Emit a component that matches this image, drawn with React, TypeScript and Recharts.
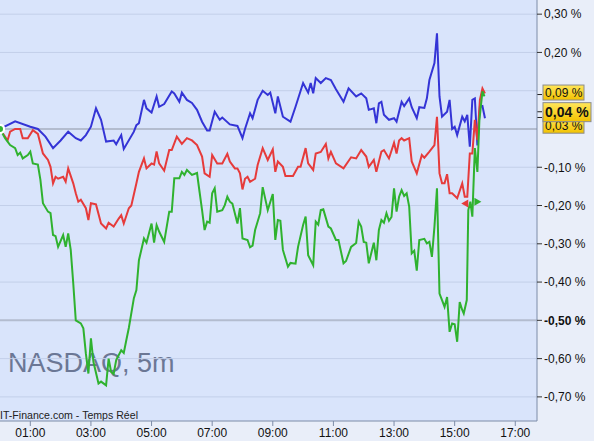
import React from "react";
import { LineChart, Line, XAxis, YAxis, ReferenceLine, ReferenceDot } from "recharts";

// [minutes since 00:00, % change]
const blueSeries: [number, number][] = [
  [0, 0], [30, 0.02], [60, 0.006], [75, 0], [90, -0.02], [105, -0.05], [120, -0.03], [135, -0.007], [150, -0.024], [160, -0.03],
  [170, -0.016], [180, 0.006], [190, 0.054], [200, 0.024], [210, -0.033], [225, -0.03], [230, -0.04], [240, -0.016], [245, -0.052],
  [265, -0.007], [270, 0.01], [275, 0.015], [285, 0.076], [290, 0.054], [300, 0.043], [310, 0.085], [315, 0.058], [325, 0.065],
  [340, 0.098], [345, 0.093], [355, 0.071], [360, 0.095], [370, 0.076], [380, 0.068], [390, 0.05], [400, 0.019], [410, -0.004],
  [415, -0.004], [425, 0.045], [435, 0.024], [440, 0.03], [455, 0.012], [470, 0.008], [480, -0.024], [485, 0], [495, 0.041],
  [500, 0.028], [510, 0.076], [520, 0.1], [530, 0.089], [535, 0.095], [545, 0.041], [550, 0.085], [560, 0.032], [575, 0.019],
  [585, 0.058], [600, 0.12], [610, 0.095], [615, 0.12], [620, 0.093], [625, 0.133], [635, 0.12], [645, 0.133], [655, 0.128],
  [665, 0.104], [680, 0.071], [690, 0.106], [705, 0.085], [715, 0.093], [725, 0.08], [730, 0.05], [740, 0.054], [745, 0.015],
  [750, 0.067], [755, 0.071], [760, 0.037], [770, 0.024], [780, 0.028], [785, 0.019], [795, 0.071], [800, 0.06], [810, 0.08],
  [815, 0.057], [825, 0.028], [830, 0.057], [840, 0.055], [845, 0.08], [850, 0.128], [860, 0.172], [865, 0.25], [870, 0.085],
  [875, 0.032], [885, 0.045], [890, 0.076], [895, 0], [900, 0.006], [905, -0.016], [915, 0.032], [920, 0.02], [925, 0.037],
  [930, -0.046], [935, 0.076], [940, 0.08], [945, -0.043], [950, 0.058], [955, 0.06], [960, 0.028],
];

const redSeries: [number, number][] = [
  [0, 0], [15, -0.03], [20, -0.007], [30, 0], [40, 0], [45, -0.024], [55, -0.024], [65, -0.003], [75, -0.013], [85, -0.064],
  [95, -0.081], [100, -0.099], [105, -0.142], [110, -0.125], [115, -0.13], [125, -0.125], [130, -0.138], [135, -0.103],
  [145, -0.142], [150, -0.168], [155, -0.19], [160, -0.185], [170, -0.207], [175, -0.238], [180, -0.194], [190, -0.197],
  [200, -0.247], [210, -0.26], [215, -0.245], [225, -0.255], [235, -0.234], [240, -0.225], [245, -0.247], [255, -0.207],
  [260, -0.2], [270, -0.142], [275, -0.112], [285, -0.077], [290, -0.103], [300, -0.09], [305, -0.093], [310, -0.059],
  [315, -0.09], [325, -0.109], [335, -0.055], [340, -0.055], [350, -0.02], [360, -0.039], [370, -0.024], [380, -0.03],
  [390, -0.042], [400, -0.072], [405, -0.116], [415, -0.125], [420, -0.068], [430, -0.09], [440, -0.09], [450, -0.065],
  [455, -0.085], [465, -0.103], [470, -0.103], [475, -0.116], [480, -0.158], [485, -0.13], [490, -0.125], [495, -0.138],
  [505, -0.13], [510, -0.094], [520, -0.05], [530, -0.081], [540, -0.053], [545, -0.112], [550, -0.085], [560, -0.099],
  [565, -0.123], [580, -0.123], [590, -0.099], [595, -0.099], [605, -0.05], [610, -0.09], [620, -0.107], [625, -0.064],
  [635, -0.06], [645, -0.039], [650, -0.077], [655, -0.06], [665, -0.09], [680, -0.103], [695, -0.074], [705, -0.077],
  [715, -0.055], [725, -0.072], [730, -0.099], [740, -0.081], [745, -0.112], [755, -0.059], [760, -0.055], [770, -0.077],
  [780, -0.036], [785, -0.064], [790, -0.03], [795, -0.024], [800, -0.03], [810, -0.024], [815, -0.085], [825, -0.116],
  [835, -0.068], [840, -0.075], [850, -0.059], [860, -0.042], [865, 0.032], [870, -0.116], [875, -0.142], [880, -0.142],
  [885, -0.118], [890, -0.168], [895, -0.168], [905, -0.181], [915, -0.142], [920, -0.177], [925, -0.177], [930, -0.064],
  [935, -0.064], [940, 0.024], [945, -0.029], [950, 0.076], [955, 0.106], [960, 0.093],
];

const greenSeries: [number, number][] = [
  [0, 0], [10, -0.024], [20, -0.042], [30, -0.05], [35, -0.068], [40, -0.062], [45, -0.077], [55, -0.068], [60, -0.059],
  [65, -0.09], [75, -0.093], [80, -0.133], [85, -0.194], [95, -0.216], [100, -0.22], [105, -0.277], [110, -0.28], [115, -0.308],
  [125, -0.277], [130, -0.308], [135, -0.273], [140, -0.316], [145, -0.403], [150, -0.5], [160, -0.508], [165, -0.521],
  [170, -0.587], [175, -0.639], [180, -0.547], [185, -0.609], [195, -0.665], [200, -0.66], [210, -0.67], [215, -0.6],
  [220, -0.635], [225, -0.64], [230, -0.604], [240, -0.578], [245, -0.585], [250, -0.552], [255, -0.52], [265, -0.442],
  [270, -0.421], [275, -0.343], [285, -0.286], [290, -0.297], [300, -0.247], [305, -0.297], [310, -0.251], [315, -0.268],
  [325, -0.295], [335, -0.216], [340, -0.216], [345, -0.129], [355, -0.129], [360, -0.112], [365, -0.12], [370, -0.107],
  [380, -0.12], [390, -0.115], [395, -0.164], [400, -0.212], [405, -0.264], [410, -0.242], [415, -0.245], [420, -0.168],
  [425, -0.155], [430, -0.216], [440, -0.212], [445, -0.199], [450, -0.177], [455, -0.19], [460, -0.195], [470, -0.247],
  [475, -0.207], [480, -0.286], [490, -0.29], [495, -0.309], [500, -0.305], [505, -0.264], [515, -0.22], [520, -0.152],
  [530, -0.212], [540, -0.17], [545, -0.29], [550, -0.238], [555, -0.24], [560, -0.316], [570, -0.36], [575, -0.35],
  [585, -0.352], [590, -0.308], [600, -0.251], [605, -0.229], [610, -0.33], [620, -0.356], [625, -0.242], [630, -0.25],
  [635, -0.212], [640, -0.21], [650, -0.255], [655, -0.26], [665, -0.29], [670, -0.29], [680, -0.351], [685, -0.345],
  [695, -0.308], [705, -0.298], [710, -0.242], [715, -0.255], [720, -0.295], [725, -0.297], [730, -0.351], [740, -0.297],
  [745, -0.343], [750, -0.264], [755, -0.238], [760, -0.245], [765, -0.22], [770, -0.24], [775, -0.23], [780, -0.155],
  [785, -0.216], [790, -0.177], [795, -0.16], [800, -0.175], [805, -0.168], [810, -0.203], [815, -0.325], [820, -0.318],
  [825, -0.37], [830, -0.29], [840, -0.287], [845, -0.299], [850, -0.295], [855, -0.334], [860, -0.255], [865, -0.155],
  [870, -0.43], [875, -0.447], [880, -0.465], [885, -0.439], [890, -0.53], [895, -0.508], [900, -0.51], [905, -0.556],
  [910, -0.452], [915, -0.473], [918, -0.482], [924, -0.447], [927, -0.212], [931, -0.19], [935, -0.229], [940, -0.05],
  [945, -0.112], [949, 0.024], [955, 0.098], [959, 0.085],
];

const xTicks = [60, 180, 300, 420, 540, 660, 780, 900, 1020];
const yTicks = [0.3, 0.2, -0.1, -0.2, -0.3, -0.4, -0.5, -0.6, -0.7];
const gridValues = [0.3, 0.2, 0.1, -0.1, -0.2, -0.3, -0.4, -0.6, -0.7];
const strongLines = [0, -0.5];

// last-value tags at the right edge
const tags = [
  { value: 0.03, text: "0,03 %", bold: false, dy: 7.7, h: 16, w: 41 },
  { value: 0.09, text: "0,09 %", bold: false, dy: -2, h: 15, w: 41 },
  { value: 0.045, text: "0,04 %", bold: true, dy: 0.4, h: 19, w: 48 },
];

// small reference markers near the close
const markers = [
  { t: 921, v: -0.195, color: "#e63b3b", dir: -1 },
  { t: 945, v: -0.19, color: "#2fb22f", dir: 1 },
];

const toRows = (s: [number, number][]) => s.map(([t, v]) => ({ t, v }));
const fmtPct = (v: number) => v.toFixed(2).replace(".", ",") + " %";
const fmtHour = (t: number) => String(Math.floor(t / 60)).padStart(2, "0") + ":00";

const FONT = "'Liberation Sans', Arial, sans-serif";

const YTick = (p: any) => {
  const v = p.payload.value;
  return (
    <text x={p.x} y={p.y} dy="0.36em" textAnchor="start" fontSize={12} fontFamily={FONT}
      fill="#111" fontWeight={Math.abs(v + 0.5) < 1e-6 ? "bold" : "normal"}>
      {fmtPct(v)}
    </text>
  );
};

const Tag = ({ viewBox, text, bold, dy, w, h }: any) => {
  const x = viewBox.x + viewBox.width;
  const cy = viewBox.y + dy;
  return (
    <g>
      <defs>
        <linearGradient id="gold" x1="0" y1="0" x2="0" y2="1">
          <stop offset="0%" stopColor="#ffe65a" />
          <stop offset="100%" stopColor="#f2c200" />
        </linearGradient>
      </defs>
      <line x1={x} x2={x + 5} y1={viewBox.y} y2={viewBox.y} stroke="#222" />
      <rect x={x + 6} y={cy - h / 2} width={w} height={h} fill="url(#gold)" stroke="#8c8c8c" />
      <text x={x + 8} y={cy + (bold ? 5 : 4.5)} fontSize={bold ? 14 : 12} fontFamily={FONT}
        fontWeight={bold ? "bold" : "normal"} fill="#111">
        {text}
      </text>
    </g>
  );
};

const Marker = ({ cx, cy, color, dir }: any) => (
  <path d={`M${cx + dir * 4},${cy} L${cx - dir * 3},${cy - 4} L${cx - dir * 3},${cy + 4} Z`} fill={color} />
);

export default function App() {
  return (
    <div style={{ position: "absolute", left: 0, top: 0, width: 594, height: 441, background: "#e9eef9", overflow: "hidden" }}>
      <div style={{ position: "absolute", left: 0, top: 0, width: 537, height: 421, background: "#d9e4fb" }} />
      <svg width={594} height={441} style={{ position: "absolute", left: 0, top: 0 }}>
        <text x={8} y={372} fontSize={27} fontFamily={FONT} fill="#6b7795">NASDAQ, 5m</text>
        <text x={0} y={419} fontSize={11.5} fontFamily={FONT} fill="#222" textLength={138} lengthAdjust="spacingAndGlyphs">
          IT-Finance.com - Temps Réel
        </text>
      </svg>
      <div style={{ position: "absolute", left: 0, top: 0 }}>
        <LineChart width={594} height={441} margin={{ top: 0, right: 0, bottom: 0, left: 0 }}>
          <XAxis type="number" dataKey="t" domain={[0, 1063]} ticks={xTicks} tickFormatter={fmtHour}
            allowDataOverflow height={20} stroke="#7d8ca8" tickSize={5}
            tick={{ fill: "#111", fontSize: 12, fontFamily: FONT }} />
          <YAxis orientation="right" type="number" domain={[-0.763, 0.337]} ticks={yTicks} allowDataOverflow
            width={57} stroke="#7d8ca8" tickSize={5} tickLine={{ stroke: "#333" }} tick={<YTick />} />
          {gridValues.map((g) => (
            <ReferenceLine key={"g" + g} y={g} stroke="#c3cfe9" strokeWidth={1} />
          ))}
          {strongLines.map((g) => (
            <ReferenceLine key={"s" + g} y={g} stroke="#b3bccf" strokeWidth={2} />
          ))}
          <Line data={toRows(blueSeries)} dataKey="v" stroke="#3434d6" strokeWidth={2} dot={false} isAnimationActive={false} />
          <Line data={toRows(redSeries)} dataKey="v" stroke="#e63b3b" strokeWidth={2} dot={false} isAnimationActive={false} />
          <Line data={toRows(greenSeries)} dataKey="v" stroke="#2fb22f" strokeWidth={2} dot={false} isAnimationActive={false} />
          {markers.map((m) => (
            <ReferenceDot key={"m" + m.t} x={m.t} y={m.v} r={4}
              shape={(p: any) => <Marker cx={p.cx} cy={p.cy} color={m.color} dir={m.dir} />} />
          ))}
          {tags.map((tg) => (
            <ReferenceLine key={"t" + tg.text} y={tg.value} stroke="none"
              label={(p: any) => <Tag viewBox={p.viewBox} text={tg.text} bold={tg.bold} dy={tg.dy} w={tg.w} h={tg.h} />} />
          ))}
        </LineChart>
      </div>
    </div>
  );
}
